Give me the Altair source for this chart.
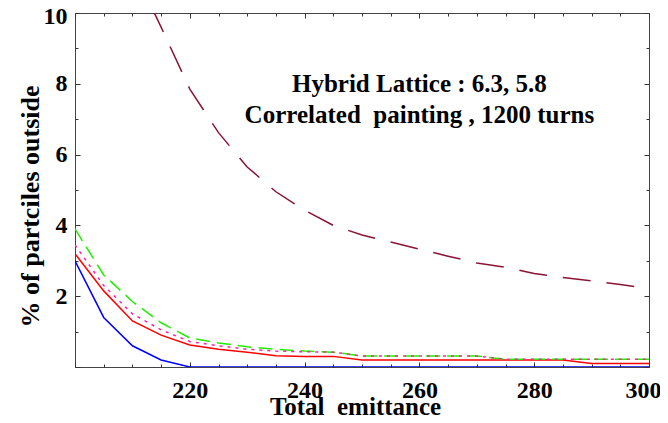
import altair as alt
import pandas as pd

# ---- data ----
emittance = [200, 205, 210, 215, 220, 225, 230, 235, 240, 245, 250,
             255, 260, 265, 270, 275, 280, 285, 290, 295, 300]
blue = [3.0, 1.4, 0.6, 0.2, 0.0, 0.0, 0.0, 0.0, 0.0, 0.0, 0.0,
        0.0, 0.0, 0.0, 0.0, 0.0, 0.0, 0.0, 0.0, 0.0, 0.0]
red = [3.2, 2.15, 1.3, 0.9, 0.62, 0.5, 0.42, 0.32, 0.3, 0.3, 0.2,
       0.2, 0.2, 0.2, 0.2, 0.2, 0.2, 0.2, 0.1, 0.1, 0.1]
magenta = [3.45, 2.3, 1.5, 1.05, 0.72, 0.6, 0.5, 0.45, 0.43, 0.42, 0.31,
           0.31, 0.31, 0.31, 0.31, 0.22, 0.22, 0.22, 0.22, 0.22, 0.22]
green = [3.9, 2.6, 1.85, 1.25, 0.82, 0.68, 0.57, 0.5, 0.45, 0.42, 0.31,
         0.31, 0.31, 0.31, 0.31, 0.22, 0.22, 0.22, 0.22, 0.22, 0.22]
maroon_x = [210, 215, 220, 225, 230, 235, 240, 245, 250, 255,
            260, 265, 270, 275, 280, 285, 290, 295, 300]
maroon = [11.3, 9.6, 7.85, 6.62, 5.65, 4.95, 4.43, 4.0, 3.73, 3.53,
          3.33, 3.13, 2.94, 2.82, 2.64, 2.53, 2.43, 2.33, 2.22]

# non-breaking space keeps the double spacing of the original
note_lines = ["Hybrid Lattice : 6.3, 5.8", "Correlated\u00a0 painting , 1200 turns"]
note_x = [260, 260]
note_y = [7.78, 6.9]

x_ticks = list(range(200, 301, 5))
y_ticks = list(range(0, 11, 1))

FONT = "'Liberation Serif', 'Times New Roman', Times, serif"
W, H = 574, 354

x_axis = alt.Axis(
    values=x_ticks,
    labelExpr="datum.value % 20 == 0 && datum.value > 200 ? datum.label : ''",
    labelOverlap=False, labelFlush=False,
    labelOffset={"condition": {"test": "datum.value == 300", "value": -6}, "value": 0},
    ticks=False, domain=False,
    grid=True, gridColor="#333333", gridOpacity=1, gridWidth=1,
    gridDash={"condition": {"test": "datum.value % 20 == 0", "value": [5, H - 10]},
              "value": [3, H - 6]},
    labelFont=FONT, labelFontSize=24, labelFontWeight="bold", labelColor="black",
    labelPadding=11,
    title="Total\u00a0 emittance", titleFont=FONT, titleFontSize=25, titleFontWeight="bold",
    titleColor="black", titleX=280, titleY=47, titleBaseline="alphabetic",
    titleAlign="center",
)
y_axis = alt.Axis(
    values=y_ticks,
    labelExpr="datum.value % 2 == 0 && datum.value > 0 ? datum.label : ''",
    labelOverlap=False, labelFlush=False,
    labelOffset={"condition": {"test": "datum.value == 10", "value": 3}, "value": 0},
    ticks=False, domain=False,
    grid=True, gridColor="#333333", gridOpacity=1, gridWidth=1,
    gridDash={"condition": {"test": "datum.value % 2 == 0", "value": [5, W - 10]},
              "value": [3, W - 6]},
    labelFont=FONT, labelFontSize=24, labelFontWeight="bold", labelColor="black",
    labelPadding=8,
    title="% of partciles outside", titleFont=FONT, titleFontSize=26,
    titleFontWeight="bold", titleColor="black",
    titleX=-45, titleY=193, titleAngle=-90, titleAlign="center", titleBaseline="middle",
)

x_enc = alt.X("e:Q", scale=alt.Scale(domain=[200, 300], nice=False, zero=False), axis=x_axis)
y_enc = alt.Y("v:Q", scale=alt.Scale(domain=[0, 10], nice=False), axis=y_axis)


def line(xs, ys, color, dash=None):
    df = pd.DataFrame({"e": xs, "v": ys})
    kw = dict(color=color, strokeWidth=1.5, clip=True)
    if dash:
        kw["strokeDash"] = dash
    return alt.Chart(df).mark_line(**kw).encode(x=x_enc, y=y_enc)


layers = [
    line(maroon_x, maroon, "#8a1434", [28, 16]),
    line(emittance, red, "#ff0000"),
    line(emittance, green, "#22ee00", [14, 7]),
    line(emittance, magenta, "#ff22aa", [3, 5]),
    line(emittance, blue, "#0000ff"),
]

notes = pd.DataFrame({"e": note_x, "v": note_y, "t": note_lines})
text = alt.Chart(notes).mark_text(
    font=FONT, fontSize=25, fontWeight="bold", align="center",
    baseline="alphabetic", color="black"
).encode(x=x_enc, y=y_enc, text="t:N")

chart = alt.layer(*layers, text).properties(
    width=W, height=H,
    autosize=alt.AutoSizeParams(type="none"),
    padding={"left": 67, "top": 5, "right": 11, "bottom": 54},
).configure_view(stroke="#444444", strokeWidth=1)

chart.save("out.html", embed_options={"renderer": "svg", "actions": False})
